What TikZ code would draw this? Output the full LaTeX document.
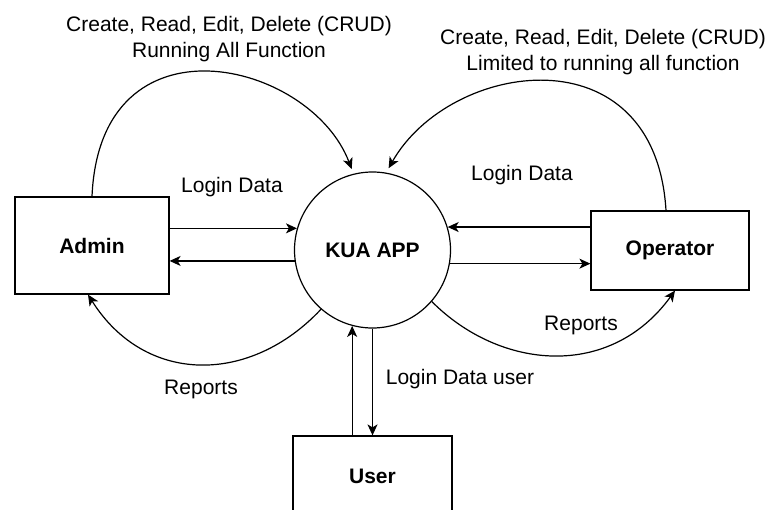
\documentclass[tikz,border=0pt]{standalone}
\usepackage{fontspec}
\setmainfont{Liberation Sans}
\usetikzlibrary{arrows.meta}

\newcommand{\dfdfont}{\fontsize{21}{26}\selectfont}

\tikzset{
    entity/.style={draw, line width=1.2pt, font=\dfdfont\bfseries, inner sep=0pt},
    process/.style={draw, circle, line width=1.2pt, minimum size=156pt, font=\dfdfont\bfseries, inner sep=0pt},
    flow/.style={line width=1.2pt, -{Stealth[length=11pt,width=10pt,inset=3pt]}},
    lbl/.style={align=center, font=\dfdfont}
}

\begin{document}
\begin{tikzpicture}[x=1pt, y=-1pt]
                \useasboundingbox (0,0) rectangle (770,509);

                \node[process] (app) at (372.5,250) {KUA APP};
                \node[entity, minimum width=154pt, minimum height=97pt] (admin) at (92,245.5) {Admin};
                \node[entity, minimum width=158pt, minimum height=79pt] (operator) at (670,250.5) {Operator};
                \node[entity, minimum width=159pt, minimum height=80pt] (user) at (372.5,476) {User};

                \node[lbl] (crudadmin) at (229,39) {Create, Read, Edit, Delete (CRUD)\\Running All Function};
                \node[lbl] (crudoperator) at (603,52) {Create, Read, Edit, Delete (CRUD)\\Limited to running all function};
                \node[lbl] (loginadmin) at (232,187) {Login Data};
                \node[lbl] (loginoperator) at (522,175) {Login Data};
                \node[lbl] (reportsadmin) at (201,389) {Reports};
                \node[lbl] (reportsoperator) at (581,325) {Reports};
                \node[lbl] (loginuser) at (460,379) {Login Data user};

                \draw[flow] (admin.east |- app.164) -- (app.164); \draw[flow] (app.188) -- (admin.east |- app.188);
                \draw[flow] (operator.west |- app.17) -- (app.17); \draw[flow] (app.-10) -- (operator.west |- app.-10);
                \draw[flow] (user.north -| app.255) -- (app.255); \draw[flow] (app.south) -- (user.north);

                \draw[flow, shorten >=5pt] (admin.north) .. controls (100,10) and (310,60) .. (app.104);
                \draw[flow, shorten >=5pt] ([xshift=-4pt]operator.north) .. controls (655,30) and (450,60) .. (app.80);
                \draw[flow] (app.229) .. controls (250,385) and (145,385) .. ([xshift=-4pt]admin.south);
                \draw[flow] (app.-41) .. controls (500,370) and (610,380) .. ([xshift=5pt]operator.south);
            \end{tikzpicture}
\end{document}
